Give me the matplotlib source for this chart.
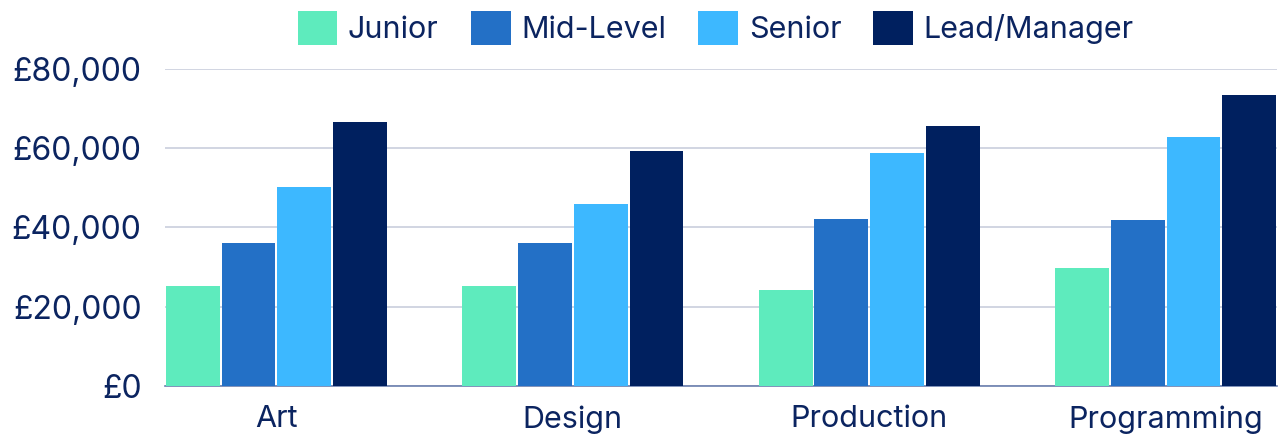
import numpy as np
import matplotlib.pyplot as plt
from matplotlib.ticker import FuncFormatter

# ---------- DATA ----------
categories = ["Art", "Design", "Production", "Programming"]
levels = ["Junior", "Mid-Level", "Senior", "Lead/Manager"]

junior = [25300, 25300, 24300, 29900]
mid_level = [36000, 36000, 42200, 42000]
senior = [50300, 46000, 58900, 62900]
lead_manager = [66700, 59400, 65700, 73500]

colors = ["#5EEBBD", "#2370C6", "#3DB8FF", "#00205F"]
# --------------------------

TEXT = "#0B2460"
plt.rcParams["font.family"] = ["Inter", "DejaVu Sans"]

series = [junior, mid_level, senior, lead_manager]
x = np.arange(len(categories))
group_w = 0.752
bar_w = group_w / len(series)

fig = plt.figure(figsize=(12.85, 4.38), dpi=100)
ax = fig.add_axes([0.1284, 0.1187, 0.8654, 0.7238])

for k, (vals, name, col) in enumerate(zip(series, levels, colors)):
    offs = -group_w / 2 + bar_w * (k + 0.5)
    ax.bar(x + offs, vals, width=bar_w * 0.965, color=col, label=name, zorder=3)

ax.set_xlim(-group_w / 2, len(categories) - 1 + group_w / 2)
ax.set_ylim(0, 80000)
ax.set_yticks(np.arange(0, 80001, 20000))
ax.yaxis.set_major_formatter(FuncFormatter(lambda v, p: f"£{int(v):,}"))
ax.set_xticks(x)
ax.set_xticklabels(categories)

ax.grid(axis="y", color="#C9CEDD", linewidth=1.2, zorder=0)
for s in ["top", "right", "left"]:
    ax.spines[s].set_visible(False)
ax.spines["bottom"].set_color("#6B7FAE")
ax.spines["bottom"].set_linewidth(1.2)
ax.spines["bottom"].set_zorder(2)

ax.tick_params(axis="y", length=0, pad=17, labelsize=23, labelcolor=TEXT)
ax.tick_params(axis="x", length=0, pad=14, labelsize=22, labelcolor=TEXT)

fig.legend(loc="center", bbox_to_anchor=(0.557, 0.936), ncol=4, frameon=False,
           fontsize=22, labelcolor=TEXT, handlelength=1.3, handleheight=1.3,
           handletextpad=0.35, columnspacing=1.05)

fig.savefig("out.png", dpi=100)
